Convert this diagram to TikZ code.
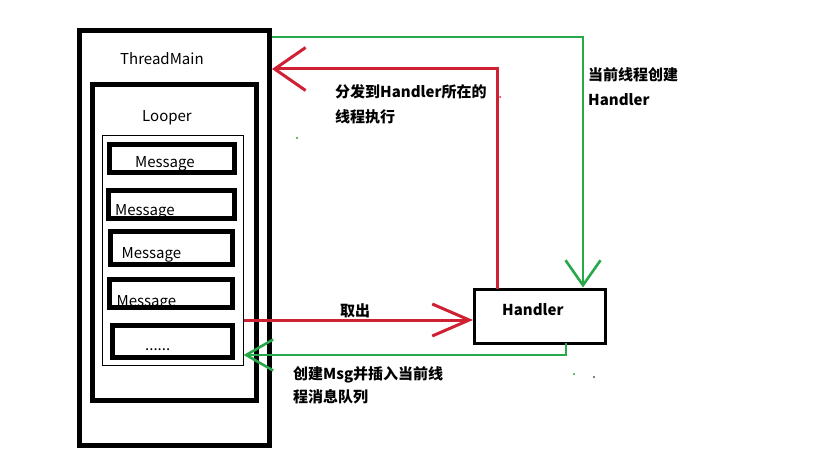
\documentclass[tikz,border=0pt]{standalone}
\usepackage{fontspec}
\setmainfont{Noto Sans CJK SC}
\usetikzlibrary{arrows.meta,calc}
\definecolor{pgreen}{RGB}{40,168,74}
\definecolor{pred}{RGB}{208,32,52}
\tikzset{
  thickbox/.style={draw=black, line width=5pt, rectangle, inner sep=0pt},
  thinbox/.style={draw=black, line width=1pt, rectangle, inner sep=0pt},
  hbox/.style={draw=black, line width=3pt, rectangle, inner sep=0pt},
  plain/.style={font=\fontsize{15}{18}\selectfont, inner sep=0pt, anchor=base west},
  lbl/.style={font=\fontsize{15}{18}\selectfont\bfseries, inner sep=0pt, anchor=base west},
  redarrow/.style={draw=pred, line width=3pt},
  greenarrow/.style={draw=pgreen, line width=2.6pt},
}
\begin{document}
\begin{tikzpicture}[x=1pt,y=-1pt]
\useasboundingbox (0,0) rectangle (819,460);
% boxes
\node[thickbox, minimum width=190pt, minimum height=414pt] (thread) at (174.5,238) {};
\node[thickbox, minimum width=164pt, minimum height=316pt] (looper) at (174,242) {};
\node[thinbox, minimum width=141pt, minimum height=230pt] (queue) at (172.5,250) {};
\node[thickbox, minimum width=125pt, minimum height=28pt] (m1) at (172,158.5) {};
\node[thickbox, minimum width=126pt, minimum height=28pt] (m2) at (171.5,204.5) {};
\node[thickbox, minimum width=122pt, minimum height=33pt] (m3) at (171.5,248) {};
\node[thickbox, minimum width=123pt, minimum height=28pt] (m4) at (171,293.5) {};
\node[thickbox, minimum width=120pt, minimum height=32pt] (m5) at (172.5,341.5) {};
\node[hbox, minimum width=130.5pt, minimum height=54pt] (handler) at (539.75,316) {};
% texts
\node[plain] (tThread) at (120,65) {ThreadMain};
\node[plain] (tLooper) at (142,121.5) {Looper};
\node[plain] (tm1) at (135,167.5) {Message};
\node[plain] (tm2) at (115,215) {Message};
\node[plain] (tm3) at (121.5,258) {Message};
\node[plain] (tm4) at (116.5,306) {Message};
\node[plain] (tm5) at (145,350) {......};
\node[lbl] (tHandler) at (502,315) {Handler};
\node[lbl] (l1a) at (335,97) {分发到Handler所在的};
\node[lbl] (l1b) at (335,122) {线程执行};
\node[lbl] (l2a) at (588,81) {当前线程创建};
\node[lbl] (l2b) at (588,105) {Handler};
\node[lbl] (l3) at (340,316) {取出};
\node[lbl] (l4a) at (293,379) {创建Msg并插入当前线};
\node[lbl] (l4b) at (293,402) {程消息队列};
% connectors
\draw[greenarrow, -{Straight Barb[length=25pt,width=35pt,line width=2.6pt]}]
  (thread.east |- 0,37) -| ($(handler.north west)+(110,0)$);
\draw[redarrow, -{Straight Barb[length=31pt,width=43pt,line width=3pt]}]
  ($(handler.north west)+(24,1.5)$) |- (thread.east |- 0,69);
\draw[redarrow, -{Straight Barb[length=37pt,width=32pt,line width=3pt]}]
  (queue.east |- 0,320) -- (handler.west |- 0,320);
\draw[greenarrow, -{Straight Barb[length=27pt,width=31pt,line width=2.6pt]}]
  ($(handler.south west)+(93,-1.5)$) |- (queue.east |- 0,355);
% stray pen dots
\fill[pgreen] (297,138) circle (1.2pt);
\fill[pgreen] (574,374) circle (1.2pt);
\fill[black] (594,377) circle (0.8pt);
\fill[pred] (500,97) circle (1pt);
\end{tikzpicture}
\end{document}
